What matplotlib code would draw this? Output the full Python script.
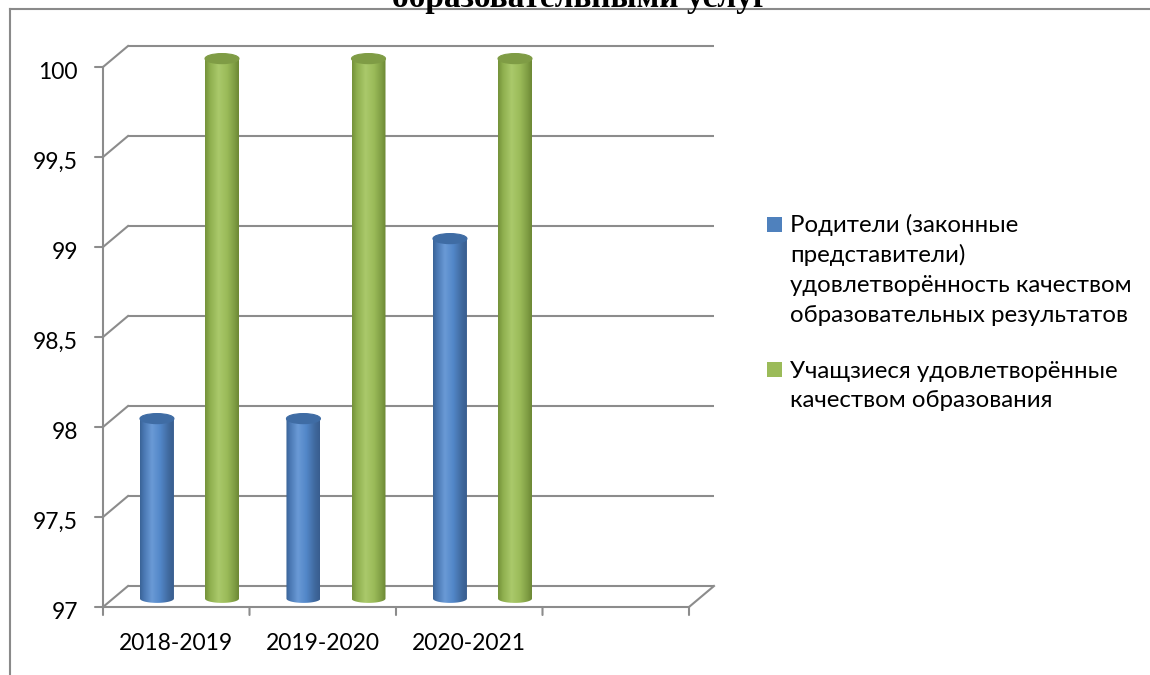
import numpy as np
import matplotlib
matplotlib.use("Agg")
import matplotlib.pyplot as plt
from matplotlib.patches import Polygon, Ellipse, Rectangle
from matplotlib.colors import LinearSegmentedColormap
from matplotlib.lines import Line2D

# data
categories = ["2018-2019", "2019-2020", "2020-2021", ""]
parents = [98, 98, 99]
students = [100, 100, 100]
y_ticks = [97, 97.5, 98, 98.5, 99, 99.5, 100]
y_labels = ["97", "97,5", "98", "98,5", "99", "99,5", "100"]
title = "образовательными услуг"
legend_parents = ["Родители (законные", "представители)",
                  "удовлетворённость качеством", "образовательных результатов"]
legend_students = ["Учащзиеся удовлетворённые", "качеством образования"]

W, H = 1150, 675
fig = plt.figure(figsize=(W / 100, H / 100), dpi=100)
fig.patch.set_facecolor("white")

# front plane of the "3d" box: category units across, value units up
ax = fig.add_axes([103 / W, 1 - 607 / H, 586 / W, 540 / H])
ax.set_axis_off()
ymin, ymax = 97, 100
xmin, xmax = -0.5, len(categories) - 0.5

# depth vector in data units (oblique projection)
DX = 25 / 146.5
DY = 21 / 180.0


def proj(c, v, d):
    return c + d * DX, v + d * DY


grid_c = "#8c8c8c"
lw = 1.5

# back wall gridlines + diagonals to the front axis
for t in y_ticks:
    x0, y0 = proj(xmin, t, 1)
    x1, y1 = proj(xmax, t, 1)
    ax.plot([x0, x1], [y0, y1], color=grid_c, lw=lw, clip_on=False, solid_capstyle="butt")
    fx, fy = proj(xmin, t, 0)
    ax.plot([fx, x0], [fy, y0], color=grid_c, lw=lw, clip_on=False)
    ax.annotate("", xy=(fx, fy), xytext=(-8, 0), textcoords="offset pixels",
                arrowprops=dict(arrowstyle="-", color=grid_c, lw=lw,
                                shrinkA=0, shrinkB=0))
    ax.annotate(y_labels[y_ticks.index(t)], xy=(fx, fy), xytext=(-25, -12),
                textcoords="offset pixels", ha="right", va="baseline",
                fontsize=16.5, family="Lato", color="black")

# left axis and floor front edge
ax.plot([xmin, xmin], [ymin, ymax], color=grid_c, lw=lw, clip_on=False)
ax.plot([xmin, xmax], [ymin, ymin], color=grid_c, lw=lw, clip_on=False)
bx, by = proj(xmax, ymin, 1)
ax.plot([xmax, bx], [ymin, by], color=grid_c, lw=lw, clip_on=False)

# category ticks and labels
for i in range(len(categories) + 1):
    ax.annotate("", xy=(i - 0.5, ymin), xytext=(0, -8), textcoords="offset pixels",
                arrowprops=dict(arrowstyle="-", color=grid_c, lw=lw,
                                shrinkA=0, shrinkB=0))
for i, lab in enumerate(categories):
    ax.annotate(lab, xy=(i, ymin), xytext=(0, -43), textcoords="offset pixels",
                ha="center", va="baseline", fontsize=16.5, family="Lato")

blue_cmap = LinearSegmentedColormap.from_list("b", [
    (0.0, "#3a6497"), (0.12, "#4a78b3"), (0.35, "#6a9ad6"),
    (0.6, "#5287c8"), (0.85, "#40699e"), (1.0, "#385d8e")])
green_cmap = LinearSegmentedColormap.from_list("g", [
    (0.0, "#74923a"), (0.15, "#8fb04f"), (0.4, "#aac96b"),
    (0.65, "#9bbb59"), (0.88, "#7e9c43"), (1.0, "#6c8733")])

grad = np.linspace(0, 1, 200).reshape(1, -1)


def cylinder(c, value, cmap, cap, d=0.4, w=0.116, h=0.028):
    cx, base = proj(c, ymin, d)
    _, top = proj(c, value, d)
    t = np.linspace(np.pi, 2 * np.pi, 60)
    pts = [(cx - w, top), (cx - w, base)]
    pts += list(zip(cx + w * np.cos(t), base + 0.85 * h * np.sin(t)))
    pts += [(cx + w, base), (cx + w, top)]
    body = Polygon(pts, closed=True, facecolor="none", edgecolor="none",
                   clip_on=False)
    ax.add_patch(body)
    im = ax.imshow(grad, cmap=cmap, aspect="auto", interpolation="bilinear",
                   extent=[cx - w, cx + w, base - h, top], zorder=3)
    im.set_clip_box(fig.bbox)
    im.set_clip_path(body)
    ax.add_patch(Ellipse((cx, top), 2 * w, 2 * h, facecolor=cap,
                         edgecolor=cap, lw=0.8, zorder=4, clip_on=False))


for i in range(len(parents)):
    cylinder(i - 0.2, parents[i], blue_cmap, "#3f6ca4")
    cylinder(i + 0.244, students[i], green_cmap, "#7f9c45")

ax.set_xlim(xmin, xmax)
ax.set_ylim(ymin, ymax)

# outer chart frame
fig.add_artist(Line2D([10 / W, 1], [1 - 9 / H, 1 - 9 / H], color="#8a8a8a", lw=1.5))
fig.add_artist(Line2D([10 / W, 10 / W], [0, 1 - 9 / H], color="#8a8a8a", lw=1.5))

# title, cut at the top edge
fig.text(580 / W, 1 - 7 / H, title, ha="center", va="baseline", fontsize=24,
         family="Liberation Serif", weight="bold")

# legend
def legend_entry(y_first, lines, color):
    fig.add_artist(Rectangle((767 / W, 1 - (y_first + 7) / H), 15 / W, 15 / H,
                             facecolor=color, edgecolor="none"))
    for k, line in enumerate(lines):
        fig.text(790 / W, 1 - (y_first + 7.5 + 29.7 * k) / H, line,
                 ha="left", va="baseline", fontsize=17.3, family="Lato")


legend_entry(225, legend_parents, "#4f81bd")
legend_entry(370, legend_students, "#9bbb59")

fig.savefig("out.png", dpi=100, facecolor="white")
